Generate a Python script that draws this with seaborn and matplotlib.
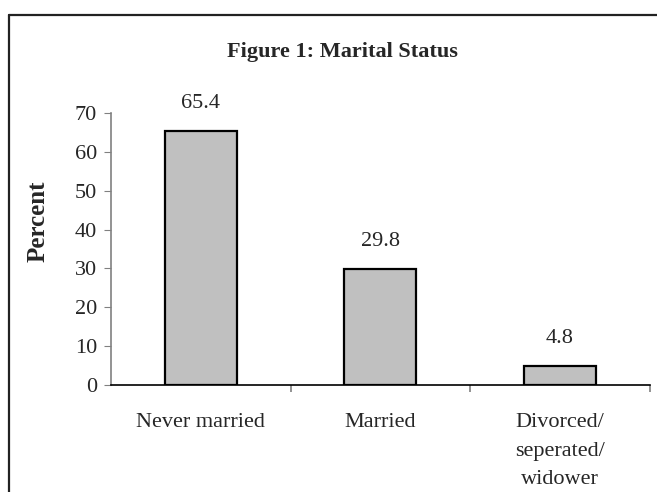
import matplotlib
matplotlib.use("Agg")
import matplotlib.pyplot as plt
import seaborn as sns
import pandas as pd
from matplotlib.ticker import FixedLocator

categories = ["Never married", "Married", "Divorced/\nseperated/\nwidower"]
percent = [65.4, 29.8, 4.8]

df = pd.DataFrame({"status": categories, "percent": percent})

sns.set_style("white")
plt.rcParams["font.family"] = ["Liberation Serif", "DejaVu Serif"]

fs = 16

fig = plt.figure(figsize=(6.57, 4.92), dpi=100)
ax = fig.add_axes([0.169, 0.2175, 0.82, 0.5525])

sns.barplot(data=df, x="status", y="percent", color="#c0c0c0",
            width=0.4, edgecolor="black", linewidth=1.6, saturation=1, ax=ax)

# value labels above bars
for i, v in enumerate(percent):
    ax.text(i, v + 4.6, f"{v}", ha="center", va="bottom", fontsize=fs)

ax.set_xlim(-0.5, 2.5)
ax.set_ylim(0, 70)
ax.set_yticks(range(0, 71, 10))
ax.set_xlabel("")
ax.set_ylabel("")

for s in ["top", "right"]:
    ax.spines[s].set_visible(False)
ax.spines["left"].set_color("#808080")
ax.spines["bottom"].set_color("black")
ax.spines["left"].set_linewidth(1.2)
ax.spines["bottom"].set_linewidth(1.2)

ax.tick_params(axis="y", left=True, length=5, color="#808080", labelsize=fs, pad=5)
ax.tick_params(axis="x", which="major", length=0, labelsize=fs, pad=20)
ax.xaxis.set_minor_locator(FixedLocator([0.5, 1.5, 2.5]))
ax.tick_params(axis="x", which="minor", bottom=True, length=5, color="#808080", width=1.2)
for lab in ax.get_xticklabels():
    lab.set_linespacing(1.7)
    lab.set_va("top")

fig.text(0.058, 0.55, "Percent", rotation=90, ha="center", va="center",
         fontsize=18, fontweight="bold")
fig.text(0.521, 0.895, "Figure 1: Marital Status", ha="center", va="center",
         fontsize=fs, fontweight="bold")

# figure frame (left and top edges, cropped on the right/bottom)
fig.add_artist(plt.Line2D([0.0137, 0.0137], [0.0, 0.969], transform=fig.transFigure,
                          color="#222222", linewidth=1.6))
fig.add_artist(plt.Line2D([0.0137, 1.0], [0.969, 0.969], transform=fig.transFigure,
                          color="#222222", linewidth=1.6))

fig.savefig("out.png", dpi=100)
